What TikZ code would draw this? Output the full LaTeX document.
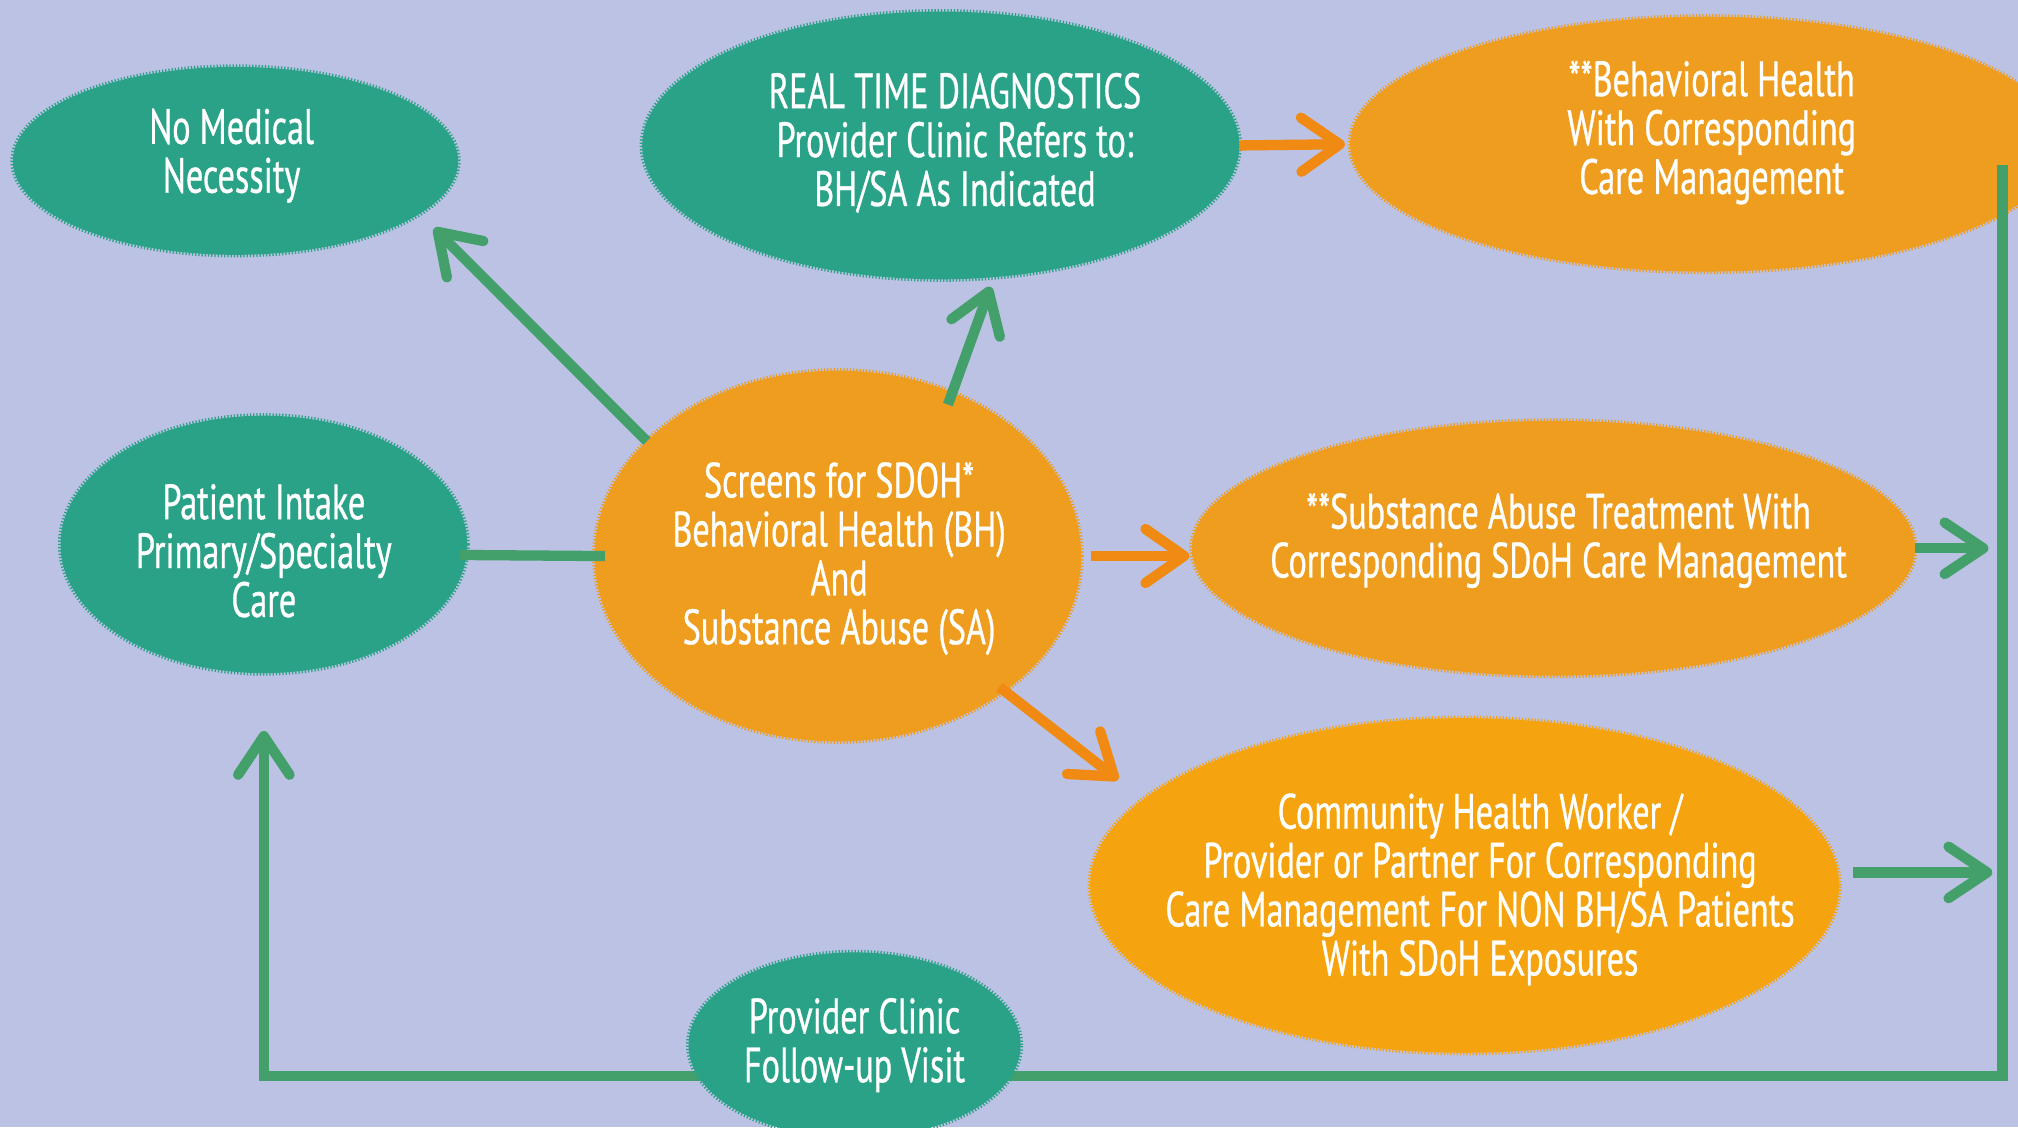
\documentclass[tikz,border=0pt]{standalone}
\usepackage{fontspec}
\setmainfont{PT Sans}[FakeStretch=0.69,FakeBold=0.6]
\usetikzlibrary{shapes.geometric,arrows.meta}
\definecolor{bgc}{HTML}{BCC2E3}
\definecolor{tealc}{HTML}{2AA288}
\definecolor{orangec}{HTML}{EE9D1F}
\definecolor{orange2c}{HTML}{F5A30F}
\definecolor{glinec}{HTML}{43A06A}
\definecolor{olinec}{HTML}{F08A12}
\begin{document}
\begin{tikzpicture}[x=1pt,y=-1pt,
  blob/.style={ellipse, inner sep=0pt, outer sep=0pt, line width=4pt, dash pattern=on 1pt off 1.5pt},
  tealblob/.style={blob, fill=tealc, draw=tealc},
  orblob/.style={blob, fill=orangec, draw=orangec},
  lbl/.style={text=white, align=center, inner sep=0pt, font=\fontsize{38.5}{38}\selectfont},
  gline/.style={draw=glinec, line width=8pt},
  garrow/.style={gline, -{Straight Barb[length=30pt,width=40pt,round]}},
  oarrow/.style={draw=olinec, line width=8pt, -{Straight Barb[length=30pt,width=42pt,round]}}]
\useasboundingbox (0,0) rectangle (1568,876);
\clip (0,0) rectangle (1568,876);
\fill[bgc] (0,0) rectangle (1568,876);
% ellipses
\node[tealblob, minimum width=346pt, minimum height=146pt] (nomed) at (183,125) {};
\node[tealblob, minimum width=464pt, minimum height=208pt] (rtd) at (731,113) {};
\node[orblob, minimum width=552pt, minimum height=198pt] (bh) at (1325,112) {};
\node[tealblob, minimum width=316pt, minimum height=200pt] (pat) at (205,423) {};
\node[orblob, minimum width=378pt, minimum height=288pt] (scr) at (651,432) {};
\node[orblob, minimum width=562pt, minimum height=198pt] (sa) at (1207,426) {};
\node[blob, fill=orange2c, draw=orange2c, minimum width=582pt, minimum height=260pt] (com) at (1138,688) {};
% connectors
\coordinate (loopTop) at (1556,128);
\coordinate (loopBot) at (1556,836);
\draw[garrow, shorten >=16pt] (scr.149) -- (nomed.-16.5);
\draw[garrow, shorten <=-10pt, shorten >=8pt] (scr.55) -- (rtd.-68);
\draw[oarrow, shorten >=4pt] (rtd.east) -- (bh.west);
\draw[oarrow, shorten <=8pt, shorten >=2pt] (scr.east) -- (scr.east -| sa.west);
\draw[oarrow, shorten <=-5pt, shorten >=25pt] (scr.-39.4) -- (com.165);
\draw[gline, shorten <=-5pt, shorten >=-8pt] (pat.-3) -- (scr.west);
\draw[garrow, shorten >=11pt] (sa.east) -- (sa.east -| loopTop);
\draw[garrow, shorten <=12pt, shorten >=8pt] (com.2) -- (com.2 -| loopTop);
\draw[garrow, shorten >=45pt, line join=miter] (loopTop) -- (loopBot) -| (pat.south);
\node[tealblob, minimum width=258pt, minimum height=144pt] (prov) at (664,812) {};
% texts
\node[lbl] (nomedT) at (180,121) {No Medical\\Necessity};
\node[lbl] (rtdT) at (742,111) {REAL TIME DIAGNOSTICS\\Provider Clinic Refers to:\\BH/SA As Indicated};
\node[lbl] (bhT) at (1330,103) {**Behavioral Health\\With Corresponding\\Care Management};
\node[lbl] (patT) at (205,428) {Patient Intake\\Primary/Specialty\\Care};
\node[lbl] (scrT) at (652,434) {Screens for SDOH*\\Behavioral Health (BH)\\And\\Substance Abuse (SA)};
\node[lbl] (saT) at (1211,420) {**Substance Abuse Treatment With\\Corresponding SDoH Care Management};
\node[lbl] (comT) at (1150,691) {Community Health Worker /\\Provider or Partner For Corresponding\\Care Management For NON BH/SA Patients\\With SDoH Exposures};
\node[lbl] (provT) at (664,812) {Provider Clinic\\Follow-up Visit};
\end{tikzpicture}
\end{document}
